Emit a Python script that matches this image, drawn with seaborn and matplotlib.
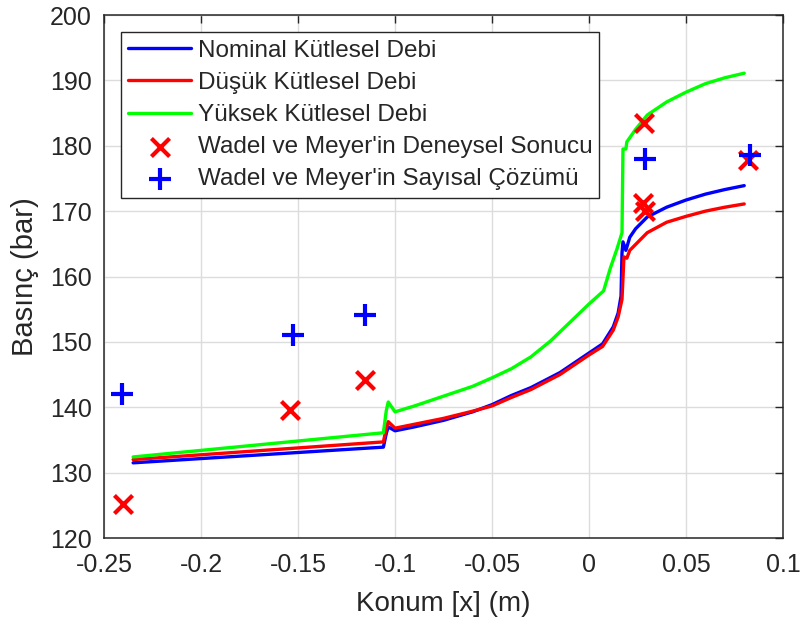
import numpy as np
import pandas as pd
import matplotlib
matplotlib.use("Agg")
import matplotlib.pyplot as plt
import seaborn as sns

# Axial pressure profiles for three mass flow rates
nominal_x = [-0.235, -0.106, -0.1045, -0.1035, -0.100, -0.090, -0.075, -0.060, -0.050,
             -0.040, -0.030, -0.015, 0.000, 0.007, 0.0125, 0.015, 0.0165, 0.0170,
             0.0175, 0.0190, 0.0210, 0.0240, 0.030, 0.040, 0.050, 0.060, 0.070, 0.080]
nominal_p = [131.5, 133.9, 136.0, 137.0, 136.4, 137.0, 138.0, 139.3, 140.4,
             141.8, 143.0, 145.3, 148.3, 149.7, 152.3, 154.4, 157.0, 163.6,
             165.3, 164.0, 166.0, 167.3, 169.1, 170.6, 171.7, 172.6, 173.3, 173.9]

low_x = [-0.235, -0.106, -0.1045, -0.1035, -0.100, -0.090, -0.075, -0.060, -0.050,
         -0.040, -0.030, -0.015, 0.000, 0.007, 0.0125, 0.015, 0.017, 0.0180,
         0.0195, 0.0210, 0.0250, 0.030, 0.040, 0.050, 0.060, 0.070, 0.080]
low_p = [132.0, 134.7, 136.8, 137.8, 136.8, 137.4, 138.3, 139.4, 140.2,
         141.5, 142.7, 145.0, 148.0, 149.3, 151.8, 153.8, 156.5, 163.0,
         162.8, 164.0, 165.2, 166.7, 168.3, 169.2, 170.0, 170.6, 171.1]

high_x = [-0.235, -0.106, -0.1045, -0.1035, -0.100, -0.090, -0.075, -0.060, -0.050,
          -0.040, -0.030, -0.020, -0.0165, -0.007, 0.000, 0.0075, 0.011, 0.0145, 0.017,
          0.0175, 0.0190, 0.0195, 0.024, 0.030, 0.040, 0.050, 0.060, 0.070, 0.080]
high_p = [132.4, 136.1, 139.5, 140.8, 139.3, 140.2, 141.7, 143.2, 144.5,
          145.9, 147.7, 150.1, 151.1, 153.8, 155.8, 157.8, 161.3, 164.3, 166.7,
          179.5, 179.5, 180.6, 182.5, 184.7, 186.7, 188.2, 189.5, 190.4, 191.1]

# Wadel & Meyer reference data
exp_x = [-0.240, -0.154, -0.1155, 0.0284, 0.0278, 0.0288, 0.082]
exp_p = [125.2, 139.6, 144.2, 183.5, 171.2, 170.0, 177.8]

num_x = [-0.2405, -0.1526, -0.1155, 0.0289, 0.083]
num_p = [142.0, 151.1, 154.1, 178.0, 178.6]

labels = ["Nominal Kütlesel Debi", "Düşük Kütlesel Debi", "Yüksek Kütlesel Debi",
          "Wadel ve Meyer'in Deneysel Sonucu", "Wadel ve Meyer'in Sayısal Çözümü"]

sns.set_theme(style="white")
plt.rcParams["font.family"] = ["Liberation Sans", "DejaVu Sans"]

fig = plt.figure(figsize=(8.04, 6.28), dpi=100)
ax = fig.add_axes([0.1294, 0.1433, 0.8445, 0.8328])

curves = [(nominal_x, nominal_p, "#0000ff", labels[0]),
          (low_x, low_p, "#ff0000", labels[1]),
          (high_x, high_p, "#00ff00", labels[2])]
for xs, ps, col, lab in curves:
    df = pd.DataFrame({"x": xs, "p": ps})
    sns.lineplot(data=df, x="x", y="p", ax=ax, color=col, linewidth=2.4,
                 sort=False, label=lab, zorder=3)

sns.scatterplot(x=exp_x, y=exp_p, ax=ax, marker="x", color="#ff0000", s=170,
                linewidth=3.0, label=labels[3], zorder=4)
sns.scatterplot(x=num_x, y=num_p, ax=ax, marker="+", color="#0000ff", s=230,
                linewidth=3.0, label=labels[4], zorder=5)

ax.set_xlim(-0.25, 0.1)
ax.set_ylim(120, 200)
ax.set_xticks([-0.25, -0.2, -0.15, -0.1, -0.05, 0, 0.05, 0.1])
ax.set_xticklabels(["-0.25", "-0.2", "-0.15", "-0.1", "-0.05", "0", "0.05", "0.1"])
ax.set_yticks(np.arange(120, 201, 10))
ax.grid(True, color="#dcdcdc", linewidth=1.0)
ax.set_axisbelow(True)

for s in ax.spines.values():
    s.set_color("#262626")
    s.set_linewidth(1.1)
ax.tick_params(axis="both", which="both", direction="in", length=6, width=1.0,
               top=True, right=True, labelsize=18, colors="#262626",
               labelcolor="#262626")
ax.tick_params(axis="x", pad=11)
ax.tick_params(axis="y", pad=9)

ax.set_xlabel("Konum [x] (m)", fontsize=20, color="#262626", labelpad=10)
ax.set_ylabel("Basınç (bar)", fontsize=21, color="#262626", labelpad=8)

leg = ax.legend(loc="upper left", bbox_to_anchor=(0.025, 0.967), fontsize=17.5,
                frameon=True, fancybox=False, edgecolor="#262626", framealpha=1,
                handlelength=2.6, handletextpad=0.25, labelspacing=0.42,
                borderpad=0.3, borderaxespad=0.0)
leg.get_frame().set_linewidth(1.0)
for t in leg.get_texts():
    t.set_color("#262626")

fig.savefig("out.png", dpi=100)
